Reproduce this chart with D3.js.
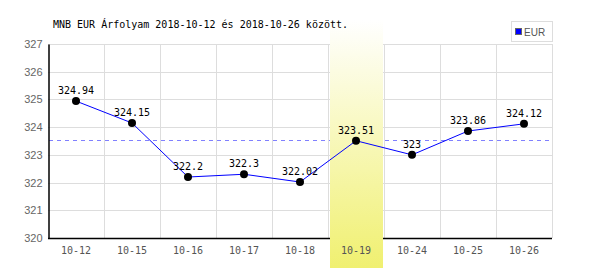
<!DOCTYPE html>
<html>
<head>
<meta charset="utf-8">
<script src="https://cdn.jsdelivr.net/npm/d3@7"></script>
<style>
  body { margin: 0; background: #fff; }
  svg { display: block; }
</style>
</head>
<body>
<div id="chart"></div>
<script>
const dates = ['10-12', '10-15', '10-16', '10-17', '10-18', '10-19', '10-24', '10-25', '10-26'];
const rates = [324.94, 324.15, 322.2, 322.3, 322.02, 323.51, 323, 323.86, 324.12];
const yTicks = [320, 321, 322, 323, 324, 325, 326, 327];
const avgLine = 323.54;
const highlighted = '10-19';
const title = 'MNB EUR Árfolyam 2018-10-12 és 2018-10-26 között.';
const seriesName = 'EUR';

const width = 600, height = 270;
const margin = { top: 44, right: 48, bottom: 32, left: 48 };
const mono = '"DejaVu Sans Mono", monospace';

const svg = d3.select('#chart')
  .append('svg')
  .attr('width', width)
  .attr('height', height);

const x = d3.scaleBand()
  .domain(dates)
  .range([margin.left, width - margin.right]);

const y = d3.scaleLinear()
  .domain([320, 327])
  .range([height - margin.bottom, margin.top]);

const grad = svg.append('defs').append('linearGradient')
  .attr('id', 'hl')
  .attr('x1', 0).attr('y1', 0).attr('x2', 0).attr('y2', 1);
grad.append('stop').attr('offset', '0%').attr('stop-color', '#ffffff');
grad.append('stop').attr('offset', '100%').attr('stop-color', '#f0f070');

// grid
const grid = svg.append('g').attr('stroke', '#dddddd').attr('stroke-width', 1);
grid.selectAll('.h')
  .data(yTicks)
  .join('line')
  .attr('x1', margin.left).attr('x2', width - margin.right)
  .attr('y1', d => Math.round(y(d)) + 0.5).attr('y2', d => Math.round(y(d)) + 0.5);
grid.selectAll('.v')
  .data(dates.slice(1).concat(['end']))
  .join('line')
  .attr('x1', d => Math.round(d === 'end' ? x.range()[1] : x(d)) + 0.5)
  .attr('x2', d => Math.round(d === 'end' ? x.range()[1] : x(d)) + 0.5)
  .attr('y1', margin.top).attr('y2', height - margin.bottom);

// average line
svg.append('line')
  .attr('x1', margin.left + 1).attr('x2', width - margin.right)
  .attr('y1', Math.round(y(avgLine)) + 0.5).attr('y2', Math.round(y(avgLine)) + 0.5)
  .attr('stroke', '#8080ff')
  .attr('stroke-dasharray', '4,4');

// axes
const xAxis = svg.append('g')
  .attr('transform', `translate(0, ${Math.round(y(320)) + 0.5})`)
  .call(d3.axisBottom(x).tickSize(0).tickPadding(8));
xAxis.select('.domain').attr('stroke', '#000').attr('stroke-width', 1.5);
xAxis.selectAll('text').attr('fill', '#555').style('font', `10px ${mono}`);

const yAxis = svg.append('g')
  .attr('transform', `translate(${margin.left + 0.5}, 0)`)
  .call(d3.axisLeft(y).tickValues(yTicks).tickFormat(d3.format('d')).tickSize(0).tickPadding(6));
yAxis.select('.domain').attr('stroke', '#000').attr('stroke-width', 1.5);
yAxis.selectAll('text').attr('fill', '#666').style('font', '11px "Liberation Sans", Arial, sans-serif');

// highlight band sits over grid and axis, under the data
svg.append('rect')
  .attr('x', x(highlighted) + 2)
  .attr('y', 20)
  .attr('width', x.bandwidth() - 3)
  .attr('height', height - 22)
  .attr('fill', 'url(#hl)');
xAxis.raise();
xAxis.select('.domain').remove();
svg.append('line')
  .attr('x1', margin.left).attr('x2', x(highlighted) + 2)
  .attr('y1', Math.round(y(320)) + 0.5).attr('y2', Math.round(y(320)) + 0.5)
  .attr('stroke', '#000').attr('stroke-width', 1.5);
svg.append('line')
  .attr('x1', x(highlighted) + x.bandwidth() - 1).attr('x2', width - margin.right)
  .attr('y1', Math.round(y(320)) + 0.5).attr('y2', Math.round(y(320)) + 0.5)
  .attr('stroke', '#000').attr('stroke-width', 1.5);

const cx = d => x(d) + x.bandwidth() / 2;

const line = d3.line()
  .x((d, i) => cx(dates[i]))
  .y(d => y(d));

svg.append('path')
  .datum(rates)
  .attr('d', line)
  .attr('fill', 'none')
  .attr('stroke', '#0000ff')
  .attr('stroke-width', 1);

svg.selectAll('.dot')
  .data(rates)
  .join('circle')
  .attr('cx', (d, i) => cx(dates[i]))
  .attr('cy', d => y(d))
  .attr('r', 4)
  .attr('fill', '#000');

svg.selectAll('.val')
  .data(rates)
  .join('text')
  .attr('x', (d, i) => cx(dates[i]))
  .attr('y', d => y(d) - 7)
  .attr('text-anchor', 'middle')
  .style('font', `10px ${mono}`)
  .attr('fill', '#000')
  .text(d => d);

// title
svg.append('text')
  .attr('x', 53).attr('y', 28)
  .style('font', `10px ${mono}`)
  .attr('fill', '#000')
  .text(title);

// legend
const lg = svg.append('g');
lg.append('rect')
  .attr('x', 511.5).attr('y', 21.5).attr('width', 41).attr('height', 20)
  .attr('fill', '#fff').attr('stroke', '#dddddd');
lg.append('rect')
  .attr('x', 515.5).attr('y', 28.5).attr('width', 6).attr('height', 6)
  .attr('fill', '#0000ff').attr('stroke', '#666');
lg.append('text')
  .attr('x', 524).attr('y', 35.5)
  .style('font', '10px "Liberation Sans", Arial, sans-serif')
  .attr('fill', '#555')
  .text(seriesName);
</script>
</body>
</html>
